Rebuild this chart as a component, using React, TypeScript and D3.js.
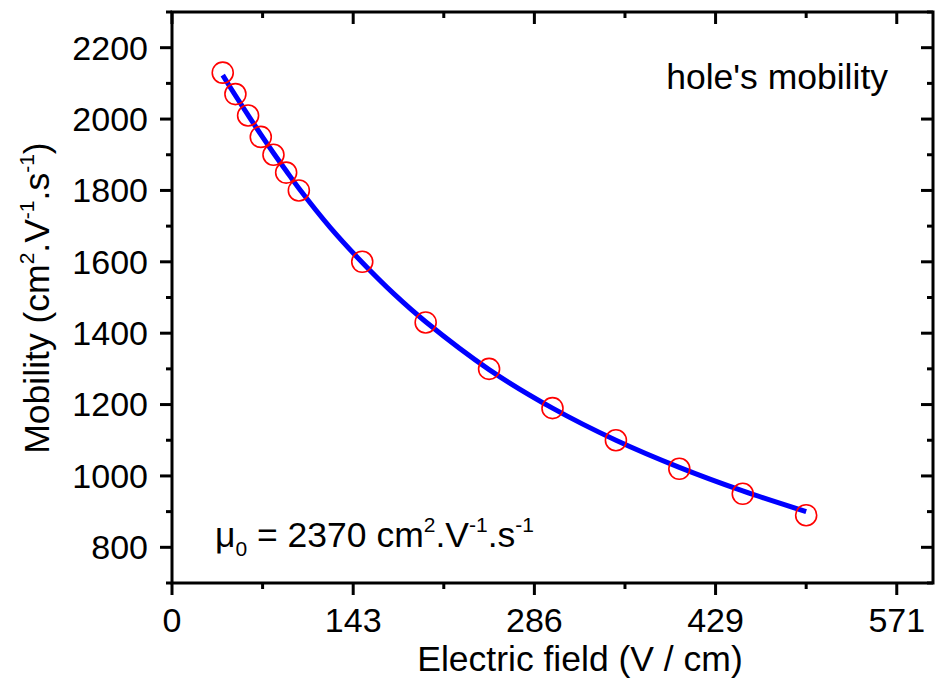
import React from "react";
import * as d3 from "d3";

const fieldValues = [40, 50, 60, 70, 80, 90, 100, 150, 200, 250, 300, 350, 400, 450, 500];
const mobilityValues = [2130, 2070, 2010, 1950, 1900, 1850, 1800, 1600, 1430, 1300, 1190, 1100, 1020, 950, 890];
const fitField = [40, 50, 60, 70, 80, 90, 100, 125, 150, 175, 200, 250, 300, 350, 400, 450, 500];
const fitMobility = [2123, 2066, 2011, 1957, 1905, 1855, 1806, 1695, 1598, 1510, 1432, 1298, 1190, 1100, 1024, 958, 900];
const xTickValues = [0, 1000 / 7, 2000 / 7, 3000 / 7, 4000 / 7];
const xTickLabels = ["0", "143", "286", "429", "571"];
const xMinorValues = [500 / 7, 1500 / 7, 2500 / 7, 3500 / 7];
const yTickValues = [800, 1000, 1200, 1400, 1600, 1800, 2000, 2200];
const yMinorValues = [700, 900, 1100, 1300, 1500, 1700, 1900, 2100, 2300];

const W = 938;
const H = 680;
const L = 172, R = 933, T = 12, B = 583;
const FONT = "'Liberation Sans', Arial, sans-serif";

export default function App() {
  const x = d3.scaleLinear().domain([0, 600]).range([L, R]);
  const y = d3.scaleLinear().domain([700, 2300]).range([B, T]);
  const line = d3
    .line<number>()
    .x((_, i) => x(fitField[i]))
    .y((d) => y(d))
    .curve(d3.curveCatmullRom);
  const fsTick = 34;
  const fs = 35.5;
  const sup = 21;
  return (
    <div style={{ position: "fixed", left: 0, top: 0 }}>
      <svg width={W} height={H} style={{ display: "block", background: "#fff" }} fontFamily={FONT}>
        <rect x={0} y={0} width={W} height={H} fill="#fff" />
        {/* fit curve */}
        <path d={line(fitMobility) || ""} fill="none" stroke="#0000ff" strokeWidth={5} />
        {/* data points */}
        {fieldValues.map((v, i) => (
          <circle key={i} cx={x(v)} cy={y(mobilityValues[i])} r={10.5} fill="none" stroke="#ff0000" strokeWidth={1.6} />
        ))}
        {/* ticks */}
        <g stroke="#000" strokeWidth={3}>
          {xTickValues.map((v, i) => (
            <g key={"xt" + i}>
              <line x1={x(v)} x2={x(v)} y1={B} y2={B + 12} />
              <line x1={x(v)} x2={x(v)} y1={T} y2={T + 12} />
            </g>
          ))}
          {xMinorValues.map((v, i) => (
            <g key={"xm" + i}>
              <line x1={x(v)} x2={x(v)} y1={B} y2={B + 6} />
              <line x1={x(v)} x2={x(v)} y1={T} y2={T + 6} />
            </g>
          ))}
          {yTickValues.map((v, i) => (
            <g key={"yt" + i}>
              <line x1={L - 12} x2={L} y1={y(v)} y2={y(v)} />
              <line x1={R - 12} x2={R} y1={y(v)} y2={y(v)} />
            </g>
          ))}
          {yMinorValues.map((v, i) => (
            <g key={"ym" + i}>
              <line x1={L - 6} x2={L} y1={y(v)} y2={y(v)} />
              <line x1={R - 6} x2={R} y1={y(v)} y2={y(v)} />
            </g>
          ))}
        </g>
        <rect x={L} y={T} width={R - L} height={B - T} fill="none" stroke="#000" strokeWidth={3} />
        {/* tick labels */}
        {xTickValues.map((v, i) => (
          <text key={"xl" + i} x={x(v)} y={632} textAnchor="middle" fontSize={fsTick} fill="#000">
            {xTickLabels[i]}
          </text>
        ))}
        {yTickValues.map((v, i) => (
          <text key={"yl" + i} x={148} y={y(v)} dy="0.35em" textAnchor="end" fontSize={fsTick} fill="#000">
            {v}
          </text>
        ))}
        {/* axis titles */}
        <text x={580} y={671} textAnchor="middle" fontSize={fs} fill="#000">
          Electric field (V / cm)
        </text>
        <text transform="translate(49, 298) rotate(-90)" textAnchor="middle" fontSize={fs} fill="#000">
          Mobility (cm<tspan fontSize={sup} dy={-15}>2</tspan>
          <tspan dy={15}>.V</tspan>
          <tspan fontSize={sup} dy={-15}>-1</tspan>
          <tspan dy={15}>.s</tspan>
          <tspan fontSize={sup} dy={-15}>-1</tspan>
          <tspan dy={15}>)</tspan>
        </text>
        {/* annotations */}
        <text x={888} y={89} textAnchor="end" fontSize={fs} fill="#000">
          hole's mobility
        </text>
        <text x={215} y={547} fontSize={fs} fill="#000">
          μ<tspan fontSize={sup} dy={9}>0</tspan>
          <tspan dy={-9}> = 2370 cm</tspan>
          <tspan fontSize={sup} dy={-15}>2</tspan>
          <tspan dy={15}>.V</tspan>
          <tspan fontSize={sup} dy={-15}>-1</tspan>
          <tspan dy={15}>.s</tspan>
          <tspan fontSize={sup} dy={-15}>-1</tspan>
        </text>
      </svg>
    </div>
  );
}
